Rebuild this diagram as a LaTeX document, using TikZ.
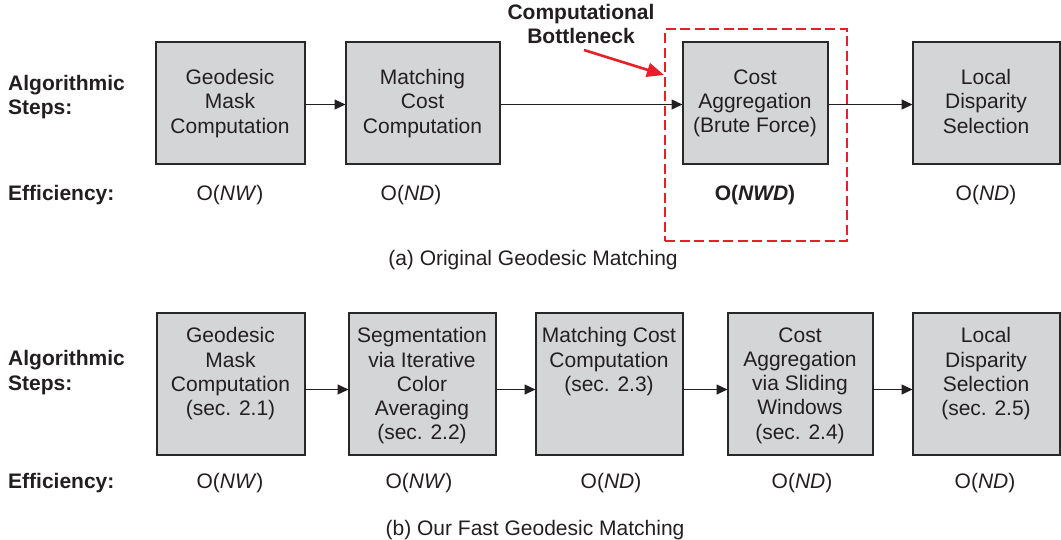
\documentclass[tikz,border=0pt]{standalone}
\usepackage{fontspec}
\setmainfont{Liberation Sans}
\usetikzlibrary{arrows.meta}

\definecolor{boxfill}{RGB}{212,213,215}
\definecolor{boxline}{RGB}{40,40,40}
\definecolor{inkc}{RGB}{35,31,32}
\definecolor{alarm}{RGB}{232,30,40}

\begin{document}
\begin{tikzpicture}[x=1pt,y=-1pt,
  font=\fontsize{21}{24.2}\selectfont,
  stage/.style={draw=boxline, fill=boxfill, line width=2pt, inner sep=0pt, outer sep=0pt},
  stagetext/.style={align=center, inner sep=0pt, text=inkc,
    execute at begin node=\strut, execute at end node=\strut},
  rowlabel/.style={align=left, inner sep=0pt, anchor=west, text=inkc,
    font=\fontsize{21}{24.2}\selectfont\bfseries,
    execute at begin node=\strut, execute at end node=\strut},
  cost/.style={inner sep=0pt, text=inkc,
    execute at begin node=\strut, execute at end node=\strut},
  flow/.style={draw=inkc, line width=1.3pt, -{Triangle[length=11pt,width=10pt]}},
]
% canvas
\path[fill=white] (0,0) rectangle (1061,539);
\useasboundingbox (0,0) rectangle (1061,539);

% ---------------- (a) original pipeline ----------------
\node[rowlabel] (lblA) at (8,98.5) {Algorithmic\\Steps:};
\node[rowlabel] (effA) at (8,196) {Efficiency:};

\node[stage, minimum width=149pt, minimum height=122pt] (a1) at (230,102.5) {};
\node[stage, minimum width=154pt, minimum height=122pt] (a2) at (422.5,102.5) {};
\node[stage, minimum width=145pt, minimum height=122pt] (a3) at (755,102.5) {};
\node[stage, minimum width=147pt, minimum height=122pt] (a4) at (986,102.5) {};

\node[stagetext] (ta1) at ([yshift=-2.5pt]a1.center) {Geodesic\\Mask\\Computation};
\node[stagetext] (ta2) at ([yshift=-2.5pt]a2.center) {Matching\\Cost\\Computation};
\node[stagetext] (ta3) at ([yshift=-2.5pt]a3.center) {Cost\\Aggregation\\(Brute Force)};
\node[stagetext] (ta4) at ([yshift=-2.5pt]a4.center) {Local\\Disparity\\Selection};

\draw[flow] ([yshift=-2pt]a1.east) -- ([yshift=-2pt]a2.west);
\draw[flow] ([yshift=-2pt]a2.east) -- ([yshift=-2pt]a3.west);
\draw[flow] ([yshift=-2pt]a3.east) -- ([yshift=-2pt]a4.west);

\node[cost] (ca1) at (230,196) {O(\textit{NW})};
\node[cost] (ca2) at (411,196) {O(\textit{ND})};
\node[cost] (ca3) at (755,196) {\textbf{O(\textit{NWD})}};
\node[cost] (ca4) at (986,196) {O(\textit{ND})};

% bottleneck highlight
\node[draw=alarm, line width=2.3pt, dash pattern=on 10pt off 4.5pt,
      minimum width=182pt, minimum height=212pt, inner sep=0pt] (hot) at (756,135) {};
\node[stagetext, font=\fontsize{21}{24.2}\selectfont\bfseries] (neck) at (581,27.5)
  {Computational\\Bottleneck};
\coordinate (neckfrom) at (584,50);
\coordinate (neckto) at (664,75);
\draw[draw=alarm, line width=2.6pt, -{Triangle[length=17pt,width=14pt]}] (neckfrom) -- (neckto);

\node[cost] (capA) at (533,261) {(a) Original Geodesic Matching};

% ---------------- (b) fast pipeline ----------------
\node[rowlabel] (lblB) at (8,374) {Algorithmic\\Steps:};
\node[rowlabel] (effB) at (8,484) {Efficiency:};

\node[stage, minimum width=148pt, minimum height=142pt] (b1) at (230.5,383.5) {};
\node[stage, minimum width=147pt, minimum height=142pt] (b2) at (422,383.5) {};
\node[stage, minimum width=147pt, minimum height=142pt] (b3) at (609,383.5) {};
\node[stage, minimum width=145pt, minimum height=142pt] (b4) at (800,383.5) {};
\node[stage, minimum width=147pt, minimum height=142pt] (b5) at (986,383.5) {};

\node[stagetext, anchor=north] (tb1) at ([yshift=-15pt]b1.north) {Geodesic\\Mask\\Computation\\(sec. 2.1)};
\node[stagetext, anchor=north] (tb2) at ([yshift=-15pt]b2.north) {Segmentation\\via Iterative\\Color\\Averaging\\(sec. 2.2)};
\node[stagetext, anchor=north] (tb3) at ([yshift=-15pt]b3.north) {Matching Cost\\Computation\\(sec. 2.3)};
\node[stagetext, anchor=north] (tb4) at ([yshift=-15pt]b4.north) {Cost\\Aggregation\\via Sliding\\Windows\\(sec. 2.4)};
\node[stagetext, anchor=north] (tb5) at ([yshift=-15pt]b5.north) {Local\\Disparity\\Selection\\(sec. 2.5)};

\draw[flow] ([yshift=-6pt]b1.east) -- ([yshift=-6pt]b2.west);
\draw[flow] ([yshift=-6pt]b2.east) -- ([yshift=-6pt]b3.west);
\draw[flow] ([yshift=-6pt]b3.east) -- ([yshift=-6pt]b4.west);
\draw[flow] ([yshift=-6pt]b4.east) -- ([yshift=-6pt]b5.west);

\node[cost] (cb1) at (230,484) {O(\textit{NW})};
\node[cost] (cb2) at (419,484) {O(\textit{NW})};
\node[cost] (cb3) at (611,484) {O(\textit{ND})};
\node[cost] (cb4) at (802,484) {O(\textit{ND})};
\node[cost] (cb5) at (985,484) {O(\textit{ND})};

\node[cost] (capB) at (535,531) {(b) Our Fast Geodesic Matching};
\end{tikzpicture}
\end{document}
